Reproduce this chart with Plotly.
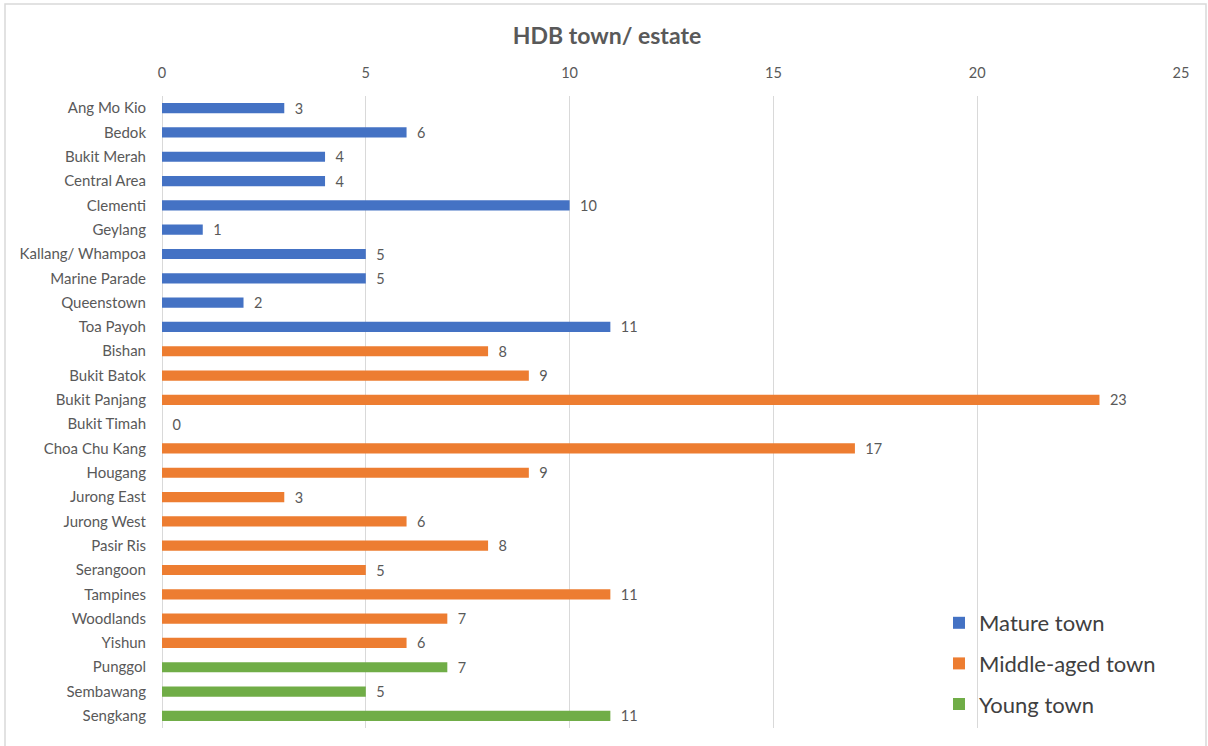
import plotly.graph_objects as go

# HDB towns grouped by maturity, with counts per town
mature_towns = ["Ang Mo Kio", "Bedok", "Bukit Merah", "Central Area", "Clementi",
                "Geylang", "Kallang/ Whampoa", "Marine Parade", "Queenstown", "Toa Payoh"]
mature_counts = [3, 6, 4, 4, 10, 1, 5, 5, 2, 11]

middle_towns = ["Bishan", "Bukit Batok", "Bukit Panjang", "Bukit Timah", "Choa Chu Kang",
                "Hougang", "Jurong East", "Jurong West", "Pasir Ris", "Serangoon",
                "Tampines", "Woodlands", "Yishun"]
middle_counts = [8, 9, 23, 0, 17, 9, 3, 6, 8, 5, 11, 7, 6]

young_towns = ["Punggol", "Sembawang", "Sengkang"]
young_counts = [7, 5, 11]

x_ticks = [0, 5, 10, 15, 20, 25]

W, H = 1208, 746
ML, MR, MT, MB = 162, 27, 96, 18
TEXT = "#595959"
FONT = "Lato, 'Open Sans', sans-serif"

series = [
    ("Mature town", mature_towns, mature_counts, "#4472C4"),
    ("Middle-aged town", middle_towns, middle_counts, "#ED7D31"),
    ("Young town", young_towns, young_counts, "#70AD47"),
]

fig = go.Figure()
for i, (name, towns, counts, color) in enumerate(series):
    fig.add_trace(go.Bar(
        name=name, y=towns, x=counts, orientation="h",
        marker=dict(color=color, line=dict(width=0)),
        width=0.42,
        text=[str(v) for v in counts],
        texttemplate="&nbsp;&nbsp;%{text}",
        textposition="outside", constraintext="none",
        textfont=dict(size=14.5, color=TEXT, family=FONT),
        cliponaxis=False,
        legendgroup=f"g{i}",
    ))

all_towns = mature_towns + middle_towns + young_towns

# outer chart border, in paper coordinates
pw, ph = W - ML - MR, H - MT - MB
def px_x(p):
    return (p - ML) / pw
def px_y(p):
    return (H - MB - p) / ph

fig.update_layout(
    width=W, height=H,
    margin=dict(l=ML, r=MR, t=MT, b=MB, pad=0),
    paper_bgcolor="white", plot_bgcolor="white",
    barmode="overlay",
    title=dict(text="<b>HDB town/ estate</b>", x=607 / W, xanchor="center",
               y=1 - 36 / H, yanchor="middle",
               font=dict(size=23, color=TEXT, family=FONT)),
    font=dict(family=FONT, color=TEXT),
    xaxis=dict(side="top", range=[0, 25], tickvals=x_ticks,
               showgrid=True, gridcolor="#d9d9d9", gridwidth=1,
               zeroline=True, zerolinecolor="#d9d9d9", zerolinewidth=1,
               showline=False, ticks="", ticklabelstandoff=14,
               tickfont=dict(size=14.5, color=TEXT, family=FONT)),
    yaxis=dict(categoryorder="array", categoryarray=all_towns,
               autorange="reversed", showgrid=False, zeroline=False,
               showline=False, ticks="", ticklabelstandoff=15,
               tickfont=dict(size=15, color=TEXT, family=FONT)),
    legend=dict(x=px_x(939), y=px_y(602), xanchor="left", yanchor="top",
                font=dict(size=22, color="#404040", family=FONT),
                bgcolor="rgba(0,0,0,0)", tracegroupgap=9,
                itemwidth=30),
    showlegend=True,
    shapes=[dict(type="rect", xref="paper", yref="paper",
                 x0=px_x(5), x1=px_x(1206), y0=px_y(760), y1=px_y(4),
                 line=dict(color="#d9d9d9", width=1.5), layer="below")],
)

fig.write_html("out.html")
